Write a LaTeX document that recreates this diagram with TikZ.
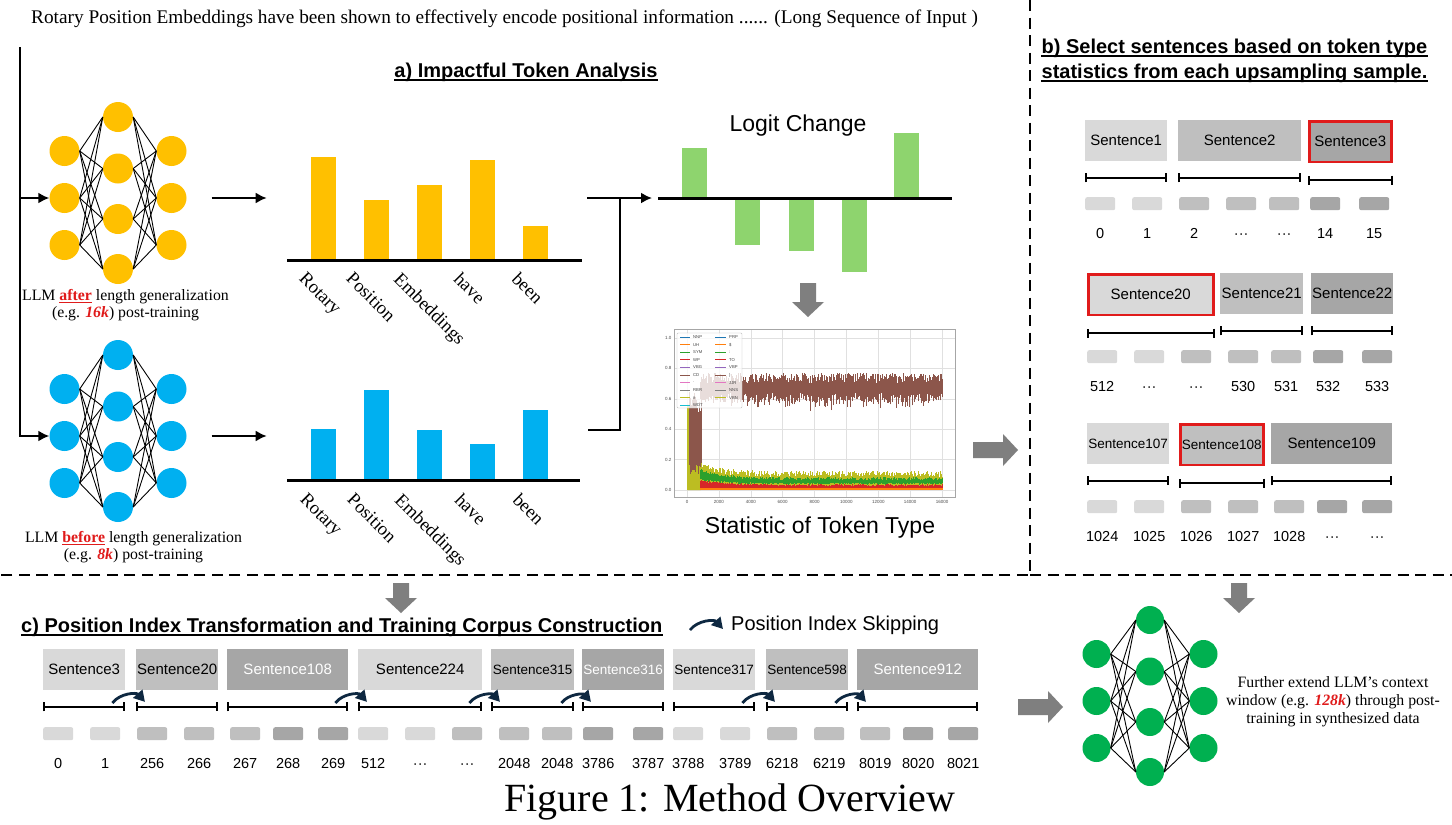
\documentclass[tikz,border=0pt]{standalone}
\usepackage{fontspec}
\setmainfont{Liberation Serif}
\setsansfont{Liberation Sans}
\usetikzlibrary{arrows.meta,positioning}

\definecolor{llmyellow}{HTML}{FFC000}
\definecolor{llmblue}{HTML}{00B0F0}
\definecolor{llmgreen}{HTML}{00B050}
\definecolor{logitgreen}{HTML}{8ED46E}
\definecolor{llmred}{HTML}{E01B1B}
\definecolor{arrowgray}{HTML}{7F7F7F}
\definecolor{skipnavy}{HTML}{0E2841}
\definecolor{shadeL}{HTML}{D9D9D9}
\definecolor{shadeM}{HTML}{BFBFBF}
\definecolor{shadeD}{HTML}{A6A6A6}
\definecolor{tabblue}{HTML}{1F77B4}
\definecolor{taborange}{HTML}{FF7F0E}
\definecolor{tabgreen}{HTML}{2CA02C}
\definecolor{tabred}{HTML}{D62728}
\definecolor{tabpurple}{HTML}{9467BD}
\definecolor{tabbrown}{HTML}{8C564B}
\definecolor{tabpink}{HTML}{E377C2}
\definecolor{tabgray}{HTML}{7F7F7F}
\definecolor{tabolive}{HTML}{BCBD22}
\definecolor{tabcyan}{HTML}{17BECF}

\newcommand{\sentfont}{\sffamily\fontsize{15}{18}\selectfont}
\newcommand{\tightfont}{\sffamily\fontsize{13.5}{16}\selectfont}
\newcommand{\idxfont}{\sffamily\fontsize{14.5}{17}\selectfont}
\newcommand{\headfont}{\sffamily\bfseries\fontsize{20}{24}\selectfont}
\newcommand{\notefont}{\rmfamily\fontsize{15.8}{17}\selectfont}

\tikzset{
	neuron/.style={circle, fill=#1, inner sep=0pt},
	synapse/.style={line width=0.9pt},
	flow/.style={line width=2pt, -{Latex[length=11pt,width=11pt]}},
	wire/.style={line width=2pt},
	axisline/.style={line width=3pt},
	wordlab/.style={font=\rmfamily\fontsize{18.5}{20}\selectfont, rotate=-45, anchor=north west, inner sep=0pt},
	paneltitle/.style={font=\headfont, inner sep=0pt, anchor=base},
	uline/.style={line width=1.8pt},
	divider/.style={line width=2.5pt, dash pattern=on 11pt off 6.5pt},
	sentbox/.style={fill=#1, anchor=north west, inner sep=0pt, minimum height=40.5pt, font=\sentfont},
	picked/.style={draw=llmred, line width=2.5pt},
	tokbox/.style={fill=#1, anchor=north west, rounded corners=2pt, inner sep=0pt, minimum width=30pt, minimum height=13pt},
	posidx/.style={font=\idxfont, inner sep=0pt, text height=10.4pt, text depth=0pt},
	sentspan/.style={line width=2pt, {Bar[width=9pt,line width=2pt]}-{Bar[width=9pt,line width=2pt]}},
	skiparrow/.style={line width=2.8pt, draw=skipnavy, -{Triangle[length=11pt,width=12pt]}, bend left=50},
	plotgrid/.style={draw=black!12, line width=0.4pt},
	plotframe/.style={draw=black!35, line width=0.6pt},
	ticklab/.style={font=\sffamily\fontsize{4.5}{5}\selectfont, inner sep=1pt, text=black!70},
	lgdlab/.style={font=\sffamily\fontsize{4.2}{5}\selectfont, inner sep=0pt, anchor=west, text=black!75},
}

\newcommand{\llmnet}[5]{%
	\foreach \k/\dy in {1/-47,2/0,3/47} {
		\node[neuron=#4, minimum size=#5] (#1_l\k) at (#2-53.5,#3+\dy) {};
		\node[neuron=#4, minimum size=#5] (#1_r\k) at (#2+53.5,#3+\dy) {};
	}
	\foreach \k/\dy in {1/-81,2/-29.5,3/21,4/71}
		\node[neuron=#4, minimum size=#5] (#1_m\k) at (#2,#3+\dy) {};
	\foreach \a in {1,2,3} \foreach \b in {1,2,3,4}
		\path[synapse] (#1_l\a.east) edge (#1_m\b.west)
			(#1_m\b.east) edge (#1_r\a.west);
}

\newcommand{\fatarrow}[4]{%
	\fill[arrowgray, shift={(#1,#2)}, rotate=#3] (0,-8) -- ({#4-15},-8) -- ({#4-15},-16)
		-- (#4,0) -- ({#4-15},16) -- ({#4-15},8) -- (0,8) -- cycle;
}

\begin{document}
\begin{tikzpicture}[x=1pt, y=-1pt]
	\fill[white] (0,0) rectangle (1452,825);
	\useasboundingbox (0,0) rectangle (1452,825);

	\node[font=\rmfamily\fontsize{19.3}{22}\selectfont, anchor=base west, inner sep=0pt] (src) at (31,23)
		{Rotary Position Embeddings have been shown to effectively encode positional information ...... (Long Sequence of Input )};

	\llmnet{ya}{118}{198}{llmyellow}{30pt}
	\llmnet{bl}{118}{436}{llmblue}{30pt}

	\coordinate (in_top) at (20,47);
	\draw[flow] (in_top) |- (bl_l2.west);
	\draw[flow] (in_top |- ya_l2.west) -- (ya_l2.west);

	\node[font=\notefont, align=center, anchor=north, inner sep=0pt] (ya_txt) at (125.5,289)
		{LLM \textcolor{llmred}{\underline{\textbf{after}}} length generalization\\(e.g. \textcolor{llmred}{\textbf{\textit{16k}}}) post-training};
	\node[font=\notefont, align=center, anchor=north, inner sep=0pt] (bl_txt) at (133.5,531)
		{LLM \textcolor{llmred}{\underline{\textbf{before}}} length generalization\\(e.g. \textcolor{llmred}{\textbf{\textit{8k}}}) post-training};

	\draw[flow] ([xshift=25pt]ya_r2.east) -- ([xshift=80pt]ya_r2.east);
	\draw[flow] ([xshift=25pt]bl_r2.east) -- ([xshift=80pt]bl_r2.east);

	\foreach \x/\top in {311/157, 364/200, 417/185, 470/160, 523/226}
		\fill[llmyellow] (\x,\top) rectangle (\x+25,260);
	\draw[axisline] (287,260) -- (582,260);
	\foreach \x/\top in {311/429, 364/390, 417/430, 470/444, 523/410}
		\fill[llmblue] (\x,\top) rectangle (\x+25,480);
	\draw[axisline] (287,480) -- (580,480);
	\foreach \x/\w [count=\k] in {307/Rotary, 354/Position, 402/Embeddings, 462/have, 520/been} {
		\node[wordlab] (ya_w\k) at (\x,271) {\w};
		\node[wordlab] (bl_w\k) at (\x+1,492) {\w};
	}

	\node[paneltitle] (ta) at (526,77) {a) Impactful Token Analysis};

	\coordinate (ya_out) at (587,198);
	\coordinate (lg_in) at (652,198);
	\coordinate (bl_out) at (588,430);
	\coordinate (lg_join) at (620,198);
	\draw[flow] (ya_out) -- (lg_in);
	\draw[wire] (bl_out) -| (lg_join);

	\foreach \x/\v in {682/148, 735/245, 789/251, 842/272, 894/133}
		\fill[logitgreen] (\x,198) rectangle (\x+25,\v);
	\draw[axisline] (658,198) -- (952,198);
	\node[font=\sffamily\fontsize{23}{26}\selectfont, anchor=base, inner sep=0pt] (lg_title) at (798,131) {Logit Change};

	\fatarrow{808}{283}{-90}{34}

	\begin{scope}[shift={(687pt,-490pt)}, x=15.9375pt, y=152pt]
		\foreach \gx in {0,2,...,16} \draw[plotgrid] (\gx,-0.046) -- (\gx,1.059);
		\foreach \gy in {0,0.2,0.4,0.6,0.8,1.0} \draw[plotgrid] (-0.816,\gy) -- (16.816,\gy);
		\pgfmathsetseed{11}
		\fill[tabolive] (0,0) -- (0,0.56) -- (0.12,0.56) -- (0.3,0.22) -- (0.85,0.17) -- (0.85,0) -- cycle;
		\foreach \i in {4,...,22} {
			\pgfmathsetmacro\xx{\i*0.04}
			\pgfmathsetmacro\lo{0.1+0.1*rnd}
			\pgfmathsetmacro\hi{0.5+0.15*rnd}
			\draw[tabbrown, line width=0.9pt] (\xx,\lo) -- (\xx,\hi);
		}
		\foreach \i in {21,...,400} {
			\pgfmathsetmacro\xx{\i*0.04}
			\pgfmathsetmacro\dc{0.06*exp(-(\xx-0.8)/1.5)}
			\pgfmathsetmacro\lo{0.58+0.06*rnd-0.06*rnd^4}
			\pgfmathsetmacro\hi{0.70+0.07*rnd}
			\draw[tabbrown, line width=0.8pt] (\xx,\lo) -- (\xx,\hi);
			\pgfmathsetmacro\ol{0.085+0.04*rnd+\dc}
			\draw[tabolive, line width=0.75pt] (\xx,0.005) -- (\xx,\ol);
			\pgfmathsetmacro\gb{0.035+0.012*rnd+0.5*\dc}
			\pgfmathsetmacro\gt{0.065+0.02*rnd+\dc}
			\draw[tabgreen, line width=0.75pt] (\xx,\gb) -- (\xx,\gt);
			\pgfmathsetmacro\rh{0.028+0.01*rnd+0.5*\dc}
			\draw[tabred, line width=0.75pt] (\xx,0.015) -- (\xx,\rh);
			\draw[taborange, line width=0.75pt] (\xx,0.002) -- (\xx,0.012);
		}
		\draw[plotframe] (-0.816,-0.046) rectangle (16.816,1.059);
		\foreach \gy/\gl [count=\k] in {0/0.0,0.2/0.2,0.4/0.4,0.6/0.6,0.8/0.8,1.0/1.0}
			\node[ticklab, anchor=east] (pl_y\k) at (-0.9,\gy) {\gl};
		\foreach \gx/\gl [count=\k] in {0/0,2/2000,4/4000,6/6000,8/8000,10/10000,12/12000,14/14000,16/16000}
			\node[ticklab, anchor=north] (pl_x\k) at (\gx,-0.06) {\gl};
	\end{scope}
	\fill[white, fill opacity=0.8, rounded corners=1pt] (677,333) rectangle (742,408);
	\draw[black!25, line width=0.4pt, rounded corners=1pt] (677,333) rectangle (742,408);
	\foreach \lab/\col [count=\k] in {NNP/tabblue,UH/taborange,SYM/tabgreen,WP/tabred,VBG/tabpurple,CD/tabbrown,./tabpink,RBR/tabgray,\#/tabolive,WDT/tabcyan} {
		\pgfmathsetmacro\ly{329.4+7.6*\k}
		\draw[draw=\col, line width=0.7pt] (680,\ly) -- (690,\ly);
		\node[lgdlab] (lg_a\k) at (693,\ly) {\lab};
	}
	\foreach \lab/\col [count=\k] in {PRP/tabblue,\$/taborange,:/tabgreen,TO/tabred,VBP/tabpurple,)/tabbrown,JJR/tabpink,NNS/tabgray,VBN/tabolive} {
		\pgfmathsetmacro\ly{329.4+7.6*\k}
		\draw[draw=\col, line width=0.7pt] (715,\ly) -- (726,\ly);
		\node[lgdlab] (lg_b\k) at (729,\ly) {\lab};
	}
	\node[font=\sffamily\fontsize{23}{26}\selectfont, anchor=base, inner sep=0pt] (st_title) at (820,533) {Statistic of Token Type};

	\fatarrow{973}{450}{0}{45}

	\draw[divider] (1030,0) -- (1030,575) -- (0,575);
	\draw[divider] (1030,575) -- (1452,575);

	\node[paneltitle] (tb_1) at (1234.5,53) {b) Select sentences based on token type};
	\node[paneltitle] (tb_2) at (1234.5,78) {statistics from each upsampling sample.};

	\node[sentbox=shadeL, minimum width=82pt] (b_s1) at (1085,120) {Sentence1};
	\node[sentbox=shadeM, minimum width=123pt] (b_s2) at (1178,120) {Sentence2};
	\node[sentbox=shadeD, minimum width=82pt, picked] (b_s3) at (1308,120) {Sentence3};
	\node[sentbox=shadeL, minimum width=125pt, picked] (b_s20) at (1087,273) {Sentence20};
	\node[sentbox=shadeM, minimum width=83pt] (b_s21) at (1220,273) {Sentence21};
	\node[sentbox=shadeD, minimum width=82pt] (b_s22) at (1311,273) {Sentence22};
	\node[sentbox=shadeL, minimum width=82pt, font=\tightfont] (b_s107) at (1087,423) {Sentence107};
	\node[sentbox=shadeM, minimum width=83pt, font=\tightfont, picked] (b_s108) at (1179,423) {Sentence108};
	\node[sentbox=shadeD, minimum width=121pt] (b_s109) at (1271,423) {Sentence109};

	\foreach \x/\n/\s [count=\k] in {1085/0/L, 1132/1/L, 1179/2/M, 1226/···/M, 1269/···/M, 1310/14/D, 1359/15/D} {
		\node[tokbox=shade\s] (b1_t\k) at (\x,197) {};
		\node[posidx, below=17pt of b1_t\k] (b1_n\k) {\n};
	}
	\foreach \x/\n/\s [count=\k] in {1087/512/L, 1134/···/L, 1181/···/M, 1228/530/M, 1271/531/M, 1313/532/D, 1362/533/D} {
		\node[tokbox=shade\s] (b2_t\k) at (\x,350) {};
		\node[posidx, below=17pt of b2_t\k] (b2_n\k) {\n};
	}
	\foreach \x/\n/\s [count=\k] in {1087/1024/L, 1134/1025/L, 1181/1026/M, 1228/1027/M, 1274/1028/M, 1317/···/D, 1362/···/D} {
		\node[tokbox=shade\s] (b3_t\k) at (\x,500) {};
		\node[posidx, below=17pt of b3_t\k] (b3_n\k) {\n};
	}

	\fatarrow{401}{583}{-90}{30}
	\fatarrow{1239}{583}{-90}{30}

	\node[paneltitle, anchor=base west] (tc) at (21,632) {c) Position Index Transformation and Training Corpus Construction};
	\foreach \n in {ta,tb_1,tb_2,tc}
		\draw[uline] ([yshift=-3pt]\n.base west) -- ([yshift=-3pt]\n.base east);

	\coordinate (sk_tail) at (690,630);
	\coordinate (sk_tip) at (723,629);
	\draw[skiparrow] (sk_tail) to (sk_tip);
	\node[font=\sffamily\fontsize{20}{24}\selectfont, anchor=base west, inner sep=0pt] (sk_lbl) at (731,630) {Position Index Skipping};

	\node[sentbox=shadeL, minimum width=82pt] (c_s3) at (43,649) {Sentence3};
	\node[sentbox=shadeM, minimum width=82pt] (c_s20) at (136,649) {Sentence20};
	\node[sentbox=shadeD, minimum width=121pt, text=white] (c_s108) at (227,649) {Sentence108};
	\node[sentbox=shadeL, minimum width=124pt] (c_s224) at (358,649) {Sentence224};
	\node[sentbox=shadeM, minimum width=83pt, font=\tightfont] (c_s315) at (491,649) {Sentence315};
	\node[sentbox=shadeD, minimum width=82pt, font=\tightfont, text=white] (c_s316) at (582,649) {Sentence316};
	\node[sentbox=shadeL, minimum width=82pt, font=\tightfont] (c_s317) at (673,649) {Sentence317};
	\node[sentbox=shadeM, minimum width=82pt, font=\tightfont] (c_s598) at (766,649) {Sentence598};
	\node[sentbox=shadeD, minimum width=121pt, text=white] (c_s912) at (857,649) {Sentence912};

	\foreach \n in {b_s1,b_s2,b_s3,b_s20,b_s21,b_s22,b_s107,b_s108,b_s109,c_s3,c_s20,c_s108,c_s224,c_s315,c_s316,c_s317,c_s598,c_s912}
		\draw[sentspan] ([yshift=-17pt]\n.south west) -- ([yshift=-17pt]\n.south east);

	\foreach \a/\b in {c_s3/c_s20, c_s108/c_s224, c_s224/c_s315, c_s315/c_s316, c_s317/c_s598, c_s598/c_s912}
		\draw[skiparrow] ([xshift=-13pt,yshift=-13pt]\a.south east) to ([xshift=9pt,yshift=-12pt]\b.south west);

	\foreach \x/\n/\s [count=\k] in {43/0/L, 90/1/L, 137/256/M, 184/266/M, 230/267/M, 273/268/D, 318/269/D,
		358/512/L, 405/···/L, 452/···/M, 499/2048/M, 542/2048/M, 583/3786/D, 633/3787/D,
		673/3788/L, 720/3789/L, 767/6218/M, 814/6219/M, 860/8019/M, 903/8020/D, 948/8021/D} {
		\node[tokbox=shade\s] (c_t\k) at (\x,727) {};
		\node[posidx, below=17pt of c_t\k] (c_n\k) {\n};
	}

	\fatarrow{1018}{707}{0}{45}
	\llmnet{gr}{1150}{701}{llmgreen}{28pt}
	\node[font=\rmfamily\fontsize{15.8}{18}\selectfont, align=center, anchor=north, inner sep=0pt] (gr_txt) at (1333,676)
		{Further extend LLM's context\\window (e.g. \textcolor{llmred}{\textbf{\textit{128k}}}) through post-\\training in synthesized data};

	\node[font=\rmfamily\fontsize{40}{44}\selectfont, anchor=base, inner sep=0pt] (cap) at (730,811) {Figure 1: Method Overview};
\end{tikzpicture}
\end{document}
